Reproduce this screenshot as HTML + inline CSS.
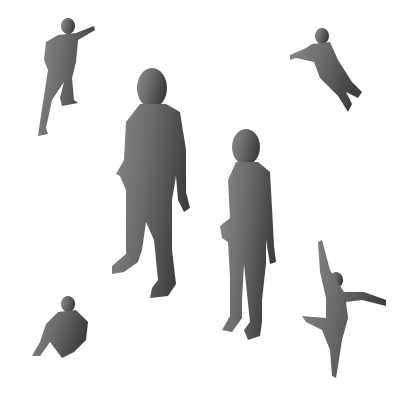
<!DOCTYPE html>
<html><head><meta charset="utf-8"><style>
html,body{margin:0;padding:0;background:#fff;width:400px;height:400px;overflow:hidden}
svg{display:block}
</style></head><body>
<svg width="400" height="400" viewBox="0 0 400 400">
<defs>
<linearGradient id="g" x1="0" y1="0" x2="1" y2="0.3">
<stop offset="0" stop-color="#8a8a8a"/><stop offset="0.5" stop-color="#6a6a6a"/><stop offset="1" stop-color="#3e3e3e"/>
</linearGradient>
<linearGradient id="g2" x1="0" y1="0" x2="1" y2="0">
<stop offset="0" stop-color="#7d7d7d"/><stop offset="1" stop-color="#454545"/>
</linearGradient>
</defs>
<g fill="url(#g)" stroke="none">
<!-- running figure top-left -->
<g>
<ellipse cx="68" cy="26" rx="7" ry="8"/>
<path d="M58 35 L76 33 L94 26 L95 30 L78 40 L76 62 L72 78 L74 100 L78 103 L62 106 L60 98 L64 82 L52 100 L46 128 L48 134 L38 136 L40 122 L44 96 L48 70 L44 60 L46 42 Z"/>
</g>
<!-- jumping figure top-right -->
<g>
<ellipse cx="322" cy="36" rx="7" ry="8"/>
<path d="M312 44 L330 42 L338 60 L352 82 L362 92 L358 98 L346 92 L352 104 L348 112 L338 96 L320 78 L314 62 L296 58 L290 60 L290 55 L306 48 Z"/>
</g>
<!-- large man -->
<g>
<ellipse cx="152" cy="88" rx="15" ry="20"/>
<path d="M140 104 L166 104 L180 112 L186 150 L186 192 L190 208 L184 212 L178 200 L176 176 L172 200 L172 250 L176 284 L168 296 L150 298 L152 288 L158 280 L154 240 L146 222 L142 250 L138 262 L124 272 L112 274 L112 266 L126 254 L126 220 L126 190 L120 176 L116 174 L124 160 L126 122 Z"/>
</g>
<!-- woman -->
<g>
<ellipse cx="246" cy="147" rx="14" ry="18"/>
<path d="M236 162 L258 162 L270 172 L272 208 L274 246 L276 262 L270 264 L266 240 L266 264 L262 300 L262 322 L260 336 L248 340 L244 330 L250 322 L246 284 L244 264 L242 300 L242 318 L232 332 L222 330 L230 316 L230 276 L228 242 L222 238 L220 226 L230 218 L228 180 Z"/>
</g>
<!-- sitting figure bottom-left -->
<g>
<ellipse cx="68" cy="304" rx="7" ry="8"/>
<path d="M58 312 L76 310 L88 322 L86 340 L74 352 L62 358 L56 350 L50 342 L40 356 L32 356 L40 342 L46 324 Z"/>
</g>
<!-- dancer bottom-right -->
<g>
<ellipse cx="336" cy="280" rx="7" ry="8"/>
<path d="M318 242 L322 240 L330 270 L344 292 L364 292 L386 300 L386 306 L362 300 L346 302 L348 318 L342 340 L338 366 L336 378 L332 376 L330 350 L322 330 L306 322 L302 316 L326 318 L326 298 L320 272 Z"/>
</g>
</g>
</svg>
</body></html>
